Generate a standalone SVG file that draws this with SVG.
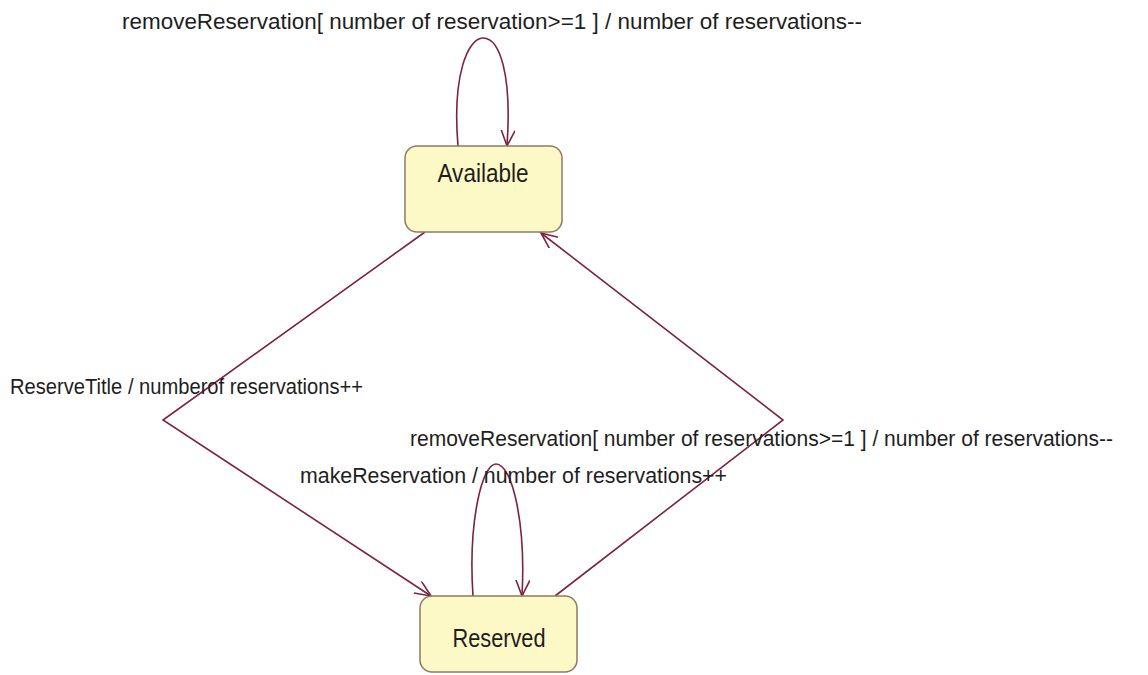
<svg xmlns="http://www.w3.org/2000/svg" width="1148" height="675" viewBox="0 0 1148 675">
  <style>
    .state rect { fill: #fdf9c6; stroke: #8c7b62; stroke-width: 1.5; }
    .state text { font-family: "Liberation Sans", Arial, sans-serif; font-size: 25px; fill: #1e1e1e; text-anchor: middle; }
    .edge { fill: none; stroke: #7b2342; stroke-width: 1.6; }
    .label { font-family: "Liberation Sans", Arial, sans-serif; font-size: 21.5px; fill: #1e1e1e; }
  </style>
  <defs>
    <marker id="open-arrow" markerUnits="userSpaceOnUse" markerWidth="20" markerHeight="16" refX="16" refY="7" orient="auto">
      <path d="M0,0 L16,7 L0,14" fill="none" stroke="#7b2342" stroke-width="1.6"/>
    </marker>
  </defs>

  <rect width="1148" height="675" fill="#ffffff"/>

  <!-- transitions -->
  <g id="connectors">
    <!-- self transition on Available -->
    <path class="edge" d="M458,146 C452,75 468,38 483,38 C500,38 512,75 507,146" marker-end="url(#open-arrow)"/>
    <!-- Available to Reserved -->
    <path class="edge" d="M425,232 L163,420 L431,596" marker-end="url(#open-arrow)"/>
    <!-- Reserved to Available -->
    <path class="edge" d="M555,596 L783,420 L541,233" marker-end="url(#open-arrow)"/>
    <!-- self transition on Reserved -->
    <path class="edge" d="M473,596 C468,522 482,464 496,464 C512,464 526,522 522,596" marker-end="url(#open-arrow)"/>
  </g>

  <g id="labels">
    <text class="label" x="122" y="29" textLength="740" lengthAdjust="spacingAndGlyphs">removeReservation[ number of reservation&gt;=1 ] / number of reservations--</text>
    <text class="label" x="10" y="394" textLength="353" lengthAdjust="spacingAndGlyphs">ReserveTitle / numberof reservations++</text>
    <text class="label" x="410" y="446" textLength="703" lengthAdjust="spacingAndGlyphs">removeReservation[ number of reservations&gt;=1 ] / number of reservations--</text>
    <text class="label" x="300" y="483" textLength="427" lengthAdjust="spacingAndGlyphs">makeReservation / number of reservations++</text>
  </g>

  <g id="available" class="state">
    <rect x="405" y="146" width="157" height="86" rx="12" ry="12"/>
    <text x="483" y="182" textLength="91" lengthAdjust="spacingAndGlyphs">Available</text>
  </g>

  <g id="reserved" class="state">
    <rect x="420" y="596" width="157" height="76" rx="12" ry="12"/>
    <text x="499" y="647" textLength="93" lengthAdjust="spacingAndGlyphs">Reserved</text>
  </g>
</svg>
